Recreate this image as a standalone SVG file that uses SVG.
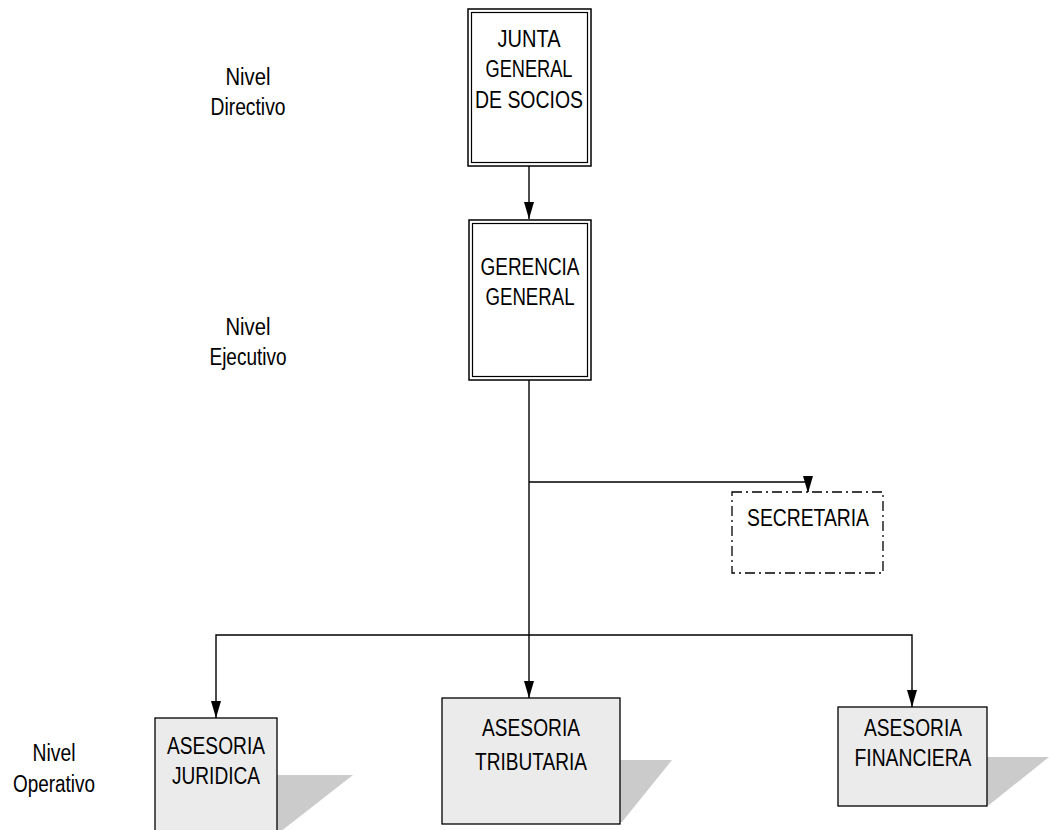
<svg xmlns="http://www.w3.org/2000/svg" width="1049" height="830" viewBox="0 0 1049 830">
<style>
text{font-family:"Liberation Sans",Arial,sans-serif;font-size:23px;fill:#000;text-anchor:middle}
.dbl{fill:#fff;stroke:#000;stroke-width:1.5}
.inner{fill:none;stroke:#000;stroke-width:1.2}
.op{fill:#ebebeb;stroke:#000;stroke-width:1.3}
.sh{fill:#cbcbcb}
.con{fill:none;stroke:#000;stroke-width:1.4}
</style>
<defs>
<marker id="ah" markerUnits="userSpaceOnUse" markerWidth="17" markerHeight="10" refX="17" refY="5" viewBox="0 0 17 10" orient="auto">
<path d="M0,0 L17,5 L0,10 Z" fill="#000"/>
</marker>
</defs>
<rect width="1049" height="830" fill="#fff"/>
<g id="labels">
<text x="248" y="85" textLength="45" lengthAdjust="spacingAndGlyphs">Nivel</text>
<text x="248" y="115" textLength="75" lengthAdjust="spacingAndGlyphs">Directivo</text>
<text x="248" y="335" textLength="45" lengthAdjust="spacingAndGlyphs">Nivel</text>
<text x="248" y="365" textLength="77" lengthAdjust="spacingAndGlyphs">Ejecutivo</text>
<text x="54" y="761" textLength="43" lengthAdjust="spacingAndGlyphs">Nivel</text>
<text x="54" y="792" textLength="82" lengthAdjust="spacingAndGlyphs">Operativo</text>
</g>
<g id="connectors">
<path class="con" d="M529,166 V219" marker-end="url(#ah)"/>
<path class="con" d="M529,380 V698" marker-end="url(#ah)"/>
<path class="con" d="M529,482 H808 V493" marker-end="url(#ah)"/>
<path class="con" d="M529,635 H216 V718" marker-end="url(#ah)"/>
<path class="con" d="M529,635 H912 V707" marker-end="url(#ah)"/>
</g>
<g id="junta">
<rect class="dbl" x="468" y="9" width="123" height="157"/>
<rect class="inner" x="471.5" y="12.5" width="116" height="150"/>
<text x="529" y="47" textLength="63" lengthAdjust="spacingAndGlyphs">JUNTA</text>
<text x="529" y="77" textLength="87" lengthAdjust="spacingAndGlyphs">GENERAL</text>
<text x="529" y="108" textLength="108" lengthAdjust="spacingAndGlyphs">DE SOCIOS</text>
</g>
<g id="gerencia">
<rect class="dbl" x="469" y="220" width="122" height="160"/>
<rect class="inner" x="472.5" y="223.5" width="115" height="153"/>
<text x="530" y="275" textLength="99" lengthAdjust="spacingAndGlyphs">GERENCIA</text>
<text x="530" y="305" textLength="89" lengthAdjust="spacingAndGlyphs">GENERAL</text>
</g>
<g id="secretaria">
<rect x="732" y="492" width="151" height="81" fill="#fff" stroke="#000" stroke-width="1.3" stroke-dasharray="10 4 2 4"/>
<text x="808" y="526" textLength="122" lengthAdjust="spacingAndGlyphs">SECRETARIA</text>
</g>
<g id="juridica">
<polygon class="sh" points="277,775 353,775 280,832 277,832"/>
<rect class="op" x="155" y="718" width="122" height="120"/>
<text x="216" y="754" textLength="98" lengthAdjust="spacingAndGlyphs">ASESORIA</text>
<text x="216" y="784" textLength="88" lengthAdjust="spacingAndGlyphs">JURIDICA</text>
</g>
<g id="tributaria">
<polygon class="sh" points="620,760 672,760 622,822 620,822"/>
<rect class="op" x="442" y="698" width="178" height="126"/>
<text x="531" y="736" textLength="98" lengthAdjust="spacingAndGlyphs">ASESORIA</text>
<text x="531" y="770" textLength="112" lengthAdjust="spacingAndGlyphs">TRIBUTARIA</text>
</g>
<g id="financiera">
<polygon class="sh" points="987,757 1049,757 989,805 987,805"/>
<rect class="op" x="838" y="707" width="149" height="99"/>
<text x="913" y="736" textLength="98" lengthAdjust="spacingAndGlyphs">ASESORIA</text>
<text x="913" y="766" textLength="117" lengthAdjust="spacingAndGlyphs">FINANCIERA</text>
</g>
</svg>
